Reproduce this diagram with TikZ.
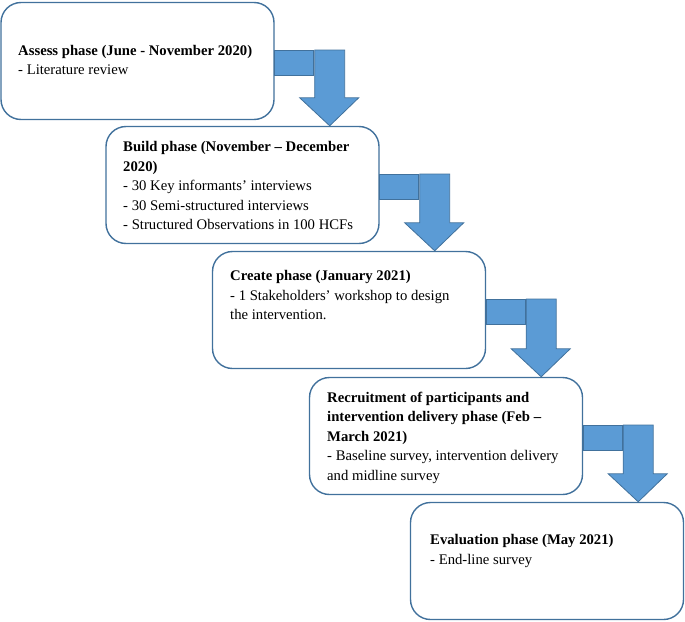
\documentclass[tikz,border=0pt]{standalone}
\usepackage{fontspec}
\setmainfont{Liberation Serif}
\usepackage{xcolor}
\usetikzlibrary{calc}
\definecolor{boxline}{HTML}{41719C}
\definecolor{arrowblue}{HTML}{5B9BD5}
\newcommand\steparrow[2]{%
\draw[blockarrow] ($(#1.east)+(0,-11)$) rectangle ++(39,25);
\draw[blockarrow] ($(#1.east)+(40,-11)$) -- ++(30,0) -- ($(#1.east |- #2.north)+(70,-28)$) -- ++(14,0) -- ($(#1.east |- #2.north)+(55,0)$) -- ($(#1.east |- #2.north)+(25,-28)$) -- ++(15,0) -- cycle;}

\begin{document}
\begin{tikzpicture}[x = 1pt, y = -1pt,
  phasebox/.style = {draw = boxline, line width = 1.4pt, fill = white, rounded corners = 20pt, minimum width = 273pt, minimum height = 117pt},
  phasetext/.style = {anchor = base west, align = left, inner sep = 0pt, font = \fontsize{14.7}{19.5}\selectfont},
  blockarrow/.style = {draw = boxline, line width = 0.8pt, fill = arrowblue, line join = miter}]
\useasboundingbox (0,0) rectangle (685,621);
\node[phasebox] (assess) at (137.5, 61) {};
\node[phasebox] (build) at (242.5, 185) {};
\node[phasebox] (create) at (349, 310) {};
\node[phasebox] (recruit) at (446, 436) {};
\node[phasebox] (evaluate) at (547, 561) {};
\node[phasetext] (assesstxt) at (18, 74.5) {\textbf{Assess phase (June - November 2020)}\\- Literature review};
\node[phasetext] (buildtxt) at (123, 229.5) {\textbf{Build phase (November – December}\\\textbf{2020)}\\- 30 Key informants’ interviews\\- 30 Semi-structured interviews\\- Structured Observations in 100 HCFs};
\node[phasetext] (createtxt) at (230, 319.5) {\textbf{Create phase (January 2021)}\\- 1 Stakeholders’ workshop to design\\the intervention.};
\node[phasetext] (recruittxt) at (327, 480) {\textbf{Recruitment of participants and}\\\textbf{intervention delivery phase (Feb –}\\\textbf{March 2021)}\\- Baseline survey, intervention delivery\\and midline survey};
\node[phasetext] (evaluatetxt) at (430, 564) {\textbf{Evaluation phase (May 2021)}\\- End-line survey};
\steparrow{assess}{build}
\steparrow{build}{create}
\steparrow{create}{recruit}
\steparrow{recruit}{evaluate}
\end{tikzpicture}
\end{document}
